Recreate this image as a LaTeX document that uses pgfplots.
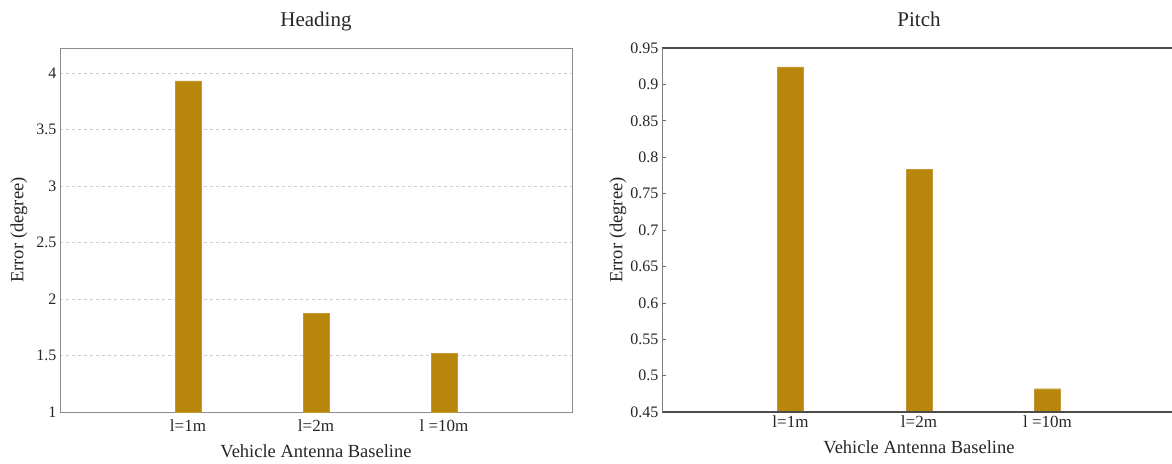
\documentclass[border=0pt]{standalone}
\usepackage{fontspec}
\setmainfont{Liberation Serif}
\usepackage{pgfplots}
\pgfplotsset{compat=1.18}
\definecolor{barc}{RGB}{184,134,11}
\begin{document}
\begin{tikzpicture}
\pgfplotsset{
  common/.style={
    scale only axis, height=364pt,
    xmin=-1, xmax=3,
    xtick={0,1,2}, xticklabels={l=1m,l=2m,l =10m},
    ybar, bar width=26pt,
    /pgf/number format/assume math mode=true,
    tick label style={font=\fontsize{17}{19}\selectfont, text=black!85},
    label style={font=\fontsize{18.5}{20}\selectfont, text=black!85},
    title style={font=\fontsize{21}{23}\selectfont, text=black!85, at={(0.5,1)}, anchor=base, yshift=15pt},
    xlabel style={yshift=-6pt},
    x tick style={draw=none},
  }
}
\begin{axis}[common, at={(0pt,0pt)}, anchor=south west, width=512pt,
  ymin=1, ymax=4.22, ytick={1,1.5,2,2.5,3,3.5,4},
  yticklabel style={font=\fontsize{16}{18}\selectfont},
  y tick style={draw=none},
  ymajorgrids, grid style={dashed, black!20},
  axis line style={black!45},
  title={Heading}, xlabel={Vehicle Antenna Baseline}, ylabel={Error (degree)},
  ylabel style={at={(axis description cs:0,0.5)}, anchor=center, yshift=41pt},
]
\addplot[fill=barc, draw=barc!85!white] coordinates {(0,3.93) (1,1.87) (2,1.52)};
\end{axis}
\begin{axis}[common, at={(602pt,0pt)}, anchor=south west, width=514pt,
  ymin=0.45, ymax=0.95, ytick={0.45,0.5,0.55,0.6,0.65,0.7,0.75,0.8,0.85,0.9,0.95},
  yticklabels={0.45,0.5,0.55,0.6,0.65,0.7,0.75,0.8,0.85,0.9,0.95},
  yticklabel style={font=\fontsize{16}{18}\selectfont},
  y tick style={black!60, line width=0.6pt}, major tick length=4pt, tick align=inside,
  axis line style={draw=none},
  title={Pitch}, xlabel={Vehicle Antenna Baseline}, ylabel={Error (degree)},
  ylabel style={at={(axis description cs:0,0.5)}, anchor=center, yshift=44pt},
]
\addplot[fill=barc, draw=barc!85!white] coordinates {(0,0.924) (1,0.783) (2,0.482)};
\draw[black!70, line width=1.6pt] (rel axis cs:0,0) -- (rel axis cs:1,0);
\draw[black!70, line width=1.6pt] (rel axis cs:0,1) -- (rel axis cs:1,1);
\draw[black!50, line width=0.6pt] (rel axis cs:0,0) -- (rel axis cs:0,1);
\draw[black!50, line width=0.6pt] (rel axis cs:1,0) -- (rel axis cs:1,1);
\end{axis}
\pgfresetboundingbox
\path (-60pt,-51pt) rectangle (1112pt,412pt);
\end{tikzpicture}
\end{document}
